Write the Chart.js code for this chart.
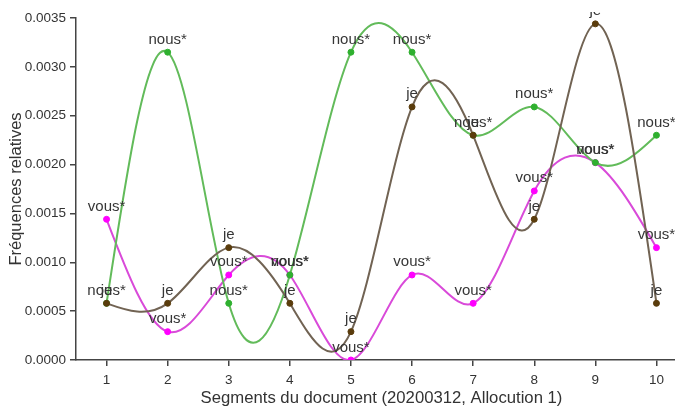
<!DOCTYPE html>
<html><head><meta charset="utf-8">
<script src="https://cdn.jsdelivr.net/npm/chart.js@4.4.1/dist/chart.umd.min.js"></script>
<style>html,body{margin:0;padding:0;overflow:hidden;background:#fff}#wrap{width:700px;height:410px;position:relative}</style>
</head><body><div id="wrap"><canvas id="c"></canvas></div>
<script>
const categories = ['1','2','3','4','5','6','7','8','9','10'];
const jeValues   = [0.00058, 0.00058, 0.00115, 0.00058, 0.00029, 0.00259, 0.00230, 0.00144, 0.00344, 0.00058];
const nousValues = [0.00058, 0.00315, 0.00058, 0.00087, 0.00315, 0.00315, 0.00230, 0.00259, 0.00202, 0.00230];
const vousValues = [0.00144, 0.00029, 0.00087, 0.00087, 0.00000, 0.00087, 0.00058, 0.00173, 0.00202, 0.00115];
const yTickValues = [0, 0.0005, 0.0010, 0.0015, 0.0020, 0.0025, 0.0030, 0.0035];

const FONT = "'Liberation Sans', Arial, sans-serif";

// natural cubic spline control points (same as d3.curveNatural)
function controlPoints(x) {
  const n = x.length - 1; const a = new Array(n), b = new Array(n), r = new Array(n);
  if (n < 1) return [a, b];
  if (n === 1) { a[0] = x[0] + (x[1]-x[0])/3; b[0] = x[0] + 2*(x[1]-x[0])/3; return [a, b]; }
  a[0] = 0; b[0] = 2; r[0] = x[0] + 2 * x[1];
  for (let i = 1; i < n - 1; ++i) { a[i] = 1; b[i] = 4; r[i] = 4 * x[i] + 2 * x[i + 1]; }
  a[n - 1] = 2; b[n - 1] = 7; r[n - 1] = 8 * x[n - 1] + x[n];
  for (let i = 1; i < n; ++i) { const m = a[i] / b[i - 1]; b[i] -= m; r[i] -= m * r[i - 1]; }
  a[n - 1] = r[n - 1] / b[n - 1];
  for (let i = n - 2; i >= 0; --i) a[i] = (r[i] - a[i + 1]) / b[i];
  b[n - 1] = (x[n] + a[n - 1]) / 2;
  for (let i = 0; i < n - 1; ++i) b[i] = 2 * x[i + 1] - a[i + 1];
  return [a, b];
}

const naturalCurve = {
  id: 'naturalCurve',
  beforeDatasetsDraw(chart) {
    chart.data.datasets.forEach((ds, di) => {
      const meta = chart.getDatasetMeta(di);
      const pts = meta.data;
      const [ax, bx] = controlPoints(pts.map(p => p.x));
      const [ay, by] = controlPoints(pts.map(p => p.y));
      for (let i = 0; i < pts.length - 1; i++) {
        pts[i].cp2x = ax[i]; pts[i].cp2y = ay[i];
        pts[i + 1].cp1x = bx[i]; pts[i + 1].cp1y = by[i];
      }
      pts[0].cp1x = pts[0].x; pts[0].cp1y = pts[0].y;
      const last = pts[pts.length - 1]; last.cp2x = last.x; last.cp2y = last.y;
      if (meta.dataset) { meta.dataset._pointsUpdated = true; delete meta.dataset._path; }
    });
  }
};

const pointLabels = {
  id: 'pointLabels',
  afterDatasetsDraw(chart) {
    const ctx = chart.ctx, area = chart.chartArea;
    ctx.save();
    ctx.beginPath(); ctx.rect(area.left, area.top - 6, area.right - area.left, area.bottom - area.top + 6); ctx.clip();
    ctx.font = "15px " + FONT; ctx.fillStyle = '#363636'; ctx.textAlign = 'center'; ctx.textBaseline = 'alphabetic';
    for (let di = chart.data.datasets.length - 1; di >= 0; di--) {
      const ds = chart.data.datasets[di];
      chart.getDatasetMeta(di).data.forEach(p => { ctx.fillText(ds.label, p.x, p.y - 8.5); });
    }
    ctx.restore();
  }
};

const axisCommon = {
  grid: { display: true, drawOnChartArea: false, drawTicks: true, tickLength: 6, color: '#444', lineWidth: 1.5 },
  border: { display: true, color: '#444', width: 1.5 },
};

new Chart(document.getElementById('c'), {
  type: 'line',
  data: {
    labels: categories,
    datasets: [
      { label: 'je', data: jeValues, borderColor: '#716353', backgroundColor: '#5a3c0c', pointBackgroundColor: '#5a3c0c', pointBorderColor: '#5a3c0c' },
      { label: 'nous*', data: nousValues, borderColor: '#62bb5a', backgroundColor: '#2fb02f', pointBackgroundColor: '#2fb02f', pointBorderColor: '#2fb02f' },
      { label: 'vous*', data: vousValues, borderColor: '#d94ad9', backgroundColor: '#ff00ff', pointBackgroundColor: '#ff00ff', pointBorderColor: '#ff00ff' }
    ].map(d => Object.assign(d, { borderWidth: 2, tension: 0.4, fill: false, pointRadius: 3, pointBorderWidth: 1, pointHoverRadius: 3 }))
  },
  options: {
    responsive: true, maintainAspectRatio: false, animation: false, devicePixelRatio: 1,
    layout: { padding: { top: 18, right: 13, left: 0, bottom: 0 } },
    plugins: { legend: { display: false }, tooltip: { enabled: false } },
    events: [],
    scales: {
      x: Object.assign({}, axisCommon, {
        type: 'category', offset: true,
        ticks: { color: '#333', font: { size: 13.5, family: FONT }, padding: 6, maxRotation: 0, autoSkip: false },
        title: { display: true, text: 'Segments du document (20200312, Allocution 1)', color: '#333', font: { size: 16.7, family: FONT }, padding: { top: 0, bottom: 2 } },
        afterFit: s => { s.height = 50; }
      }),
      y: Object.assign({}, axisCommon, {
        min: 0, max: 0.0035,
        afterBuildTicks: s => { s.ticks = yTickValues.map(v => ({ value: v })); },
        ticks: { color: '#333', font: { size: 13.5, family: FONT }, padding: 4, callback: v => Number(v).toFixed(4) },
        title: { display: true, text: 'Fréquences relatives', color: '#333', font: { size: 16.5, family: FONT }, padding: { top: 7, bottom: 0 } },
        afterFit: s => { s.width = 76; }
      })
    }
  },
  plugins: [naturalCurve, pointLabels]
});
</script>
</body></html>
